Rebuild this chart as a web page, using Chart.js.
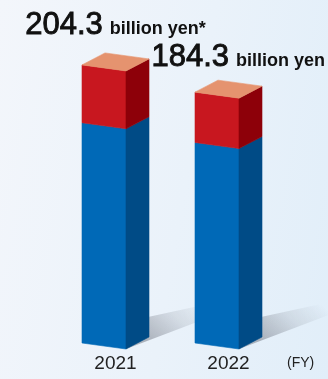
<!DOCTYPE html>
<html>
<head>
<meta charset="utf-8">
<script src="https://cdn.jsdelivr.net/npm/chart.js@4.4.1/dist/chart.umd.min.js"></script>
<style>
  html, body { margin: 0; padding: 0; }
  body {
    width: 328px; height: 379px; overflow: hidden;
    background: linear-gradient(100deg, #f3f6fb 0%, #eaf2fa 55%, #e1eef9 100%);
  }
  #wrap { position: relative; width: 328px; height: 379px; }
</style>
</head>
<body>
<div id="wrap"><canvas id="chart"></canvas></div>
<script>
const years = ["2021", "2022"];
const lowerPart = [161.8, 147.3];
const upperPart = [42.5, 37.0];
const totalLabels = ["204.3", "184.3"];
const unitLabels = ["billion yen*", "billion yen"];
const axisUnit = "(FY)";

// box depth: side face width/rise, front face tilt
const DX = 23, DY = 12, SLANT = 6;
const lidColor = "#e5936f";
const FONT = '"Liberation Sans", Arial, sans-serif';

function poly(ctx, pts, fill, edge) {
  ctx.beginPath();
  ctx.moveTo(pts[0][0], pts[0][1]);
  for (let i = 1; i < pts.length; i++) ctx.lineTo(pts[i][0], pts[i][1]);
  ctx.closePath();
  ctx.fillStyle = fill;
  ctx.fill();
  if (edge !== false) {
    ctx.strokeStyle = fill;
    ctx.lineWidth = 0.6;
    ctx.stroke();
  }
}

const boxes = {
  id: "boxes",
  afterDatasetsDraw(chart) {
    const ctx = chart.ctx;
    const metas = chart.data.datasets.map((d, i) => chart.getDatasetMeta(i));
    const n = chart.data.labels.length;
    ctx.save();

    // floor shadows first, so the next box covers the previous shadow
    for (let i = 0; i < n; i++) {
      const el = metas[0].data[i];
      const left = el.x - (el.width + DX) / 2;
      const right = left + el.width;
      const yb = el.base + SLANT;
      const sx = right + DX, L = 75;
      const top0 = yb - DY - 20;
      const g = ctx.createLinearGradient(sx, yb - 6, sx + 45, yb - DY - 45);
      g.addColorStop(0, "rgba(95,100,112,0.45)");
      g.addColorStop(0.55, "rgba(95,100,112,0.15)");
      g.addColorStop(1, "rgba(95,100,112,0)");
      poly(ctx, [[right, yb], [sx - 1, top0], [sx + L, top0 - 0.22 * L],
                 [sx + L, yb - 0.38 * (DX + L)]], g, false);
    }

    for (let i = 0; i < n; i++) {
      let left, right, top;
      metas.forEach((meta, d) => {
        const el = meta.data[i];
        const ds = chart.data.datasets[d];
        left = el.x - (el.width + DX) / 2;
        right = left + el.width;
        const yt = el.y, yb = el.base;
        top = yt;
        poly(ctx, [[left, yt], [right, yt + SLANT], [right, yb + SLANT], [left, yb]], ds.faceColor);
        poly(ctx, [[right, yt + SLANT], [right + DX, yt + SLANT - DY],
                   [right + DX, yb + SLANT - DY], [right, yb + SLANT]], ds.sideColor);
      });
      poly(ctx, [[left, top], [right, top + SLANT], [right + DX, top + SLANT - DY],
                 [left + DX, top - DY]], lidColor);

      // total label above the box; the last one is kept inside the right edge
      const cx = left + (right + DX - left) / 2;
      ctx.font = "31px " + FONT;
      const w1 = ctx.measureText(totalLabels[i]).width;
      ctx.font = "bold 18px " + FONT;
      const w2 = ctx.measureText(unitLabels[i]).width;
      const gap = 7;
      const w = w1 + gap + w2;
      const x0 = i === n - 1 ? chart.width - 3 - w : cx - w / 2;
      const base = i === n - 1 ? top - 26 : top - 31;
      ctx.fillStyle = "#111";
      ctx.strokeStyle = "#111";
      ctx.textBaseline = "alphabetic";
      ctx.textAlign = "left";
      ctx.font = "31px " + FONT;
      ctx.lineWidth = 0.9;
      ctx.fillText(totalLabels[i], x0, base);
      ctx.strokeText(totalLabels[i], x0, base);
      ctx.font = "bold 18px " + FONT;
      ctx.fillText(unitLabels[i], x0 + w1 + gap, base);
    }

    // axis unit after the last year
    const area = chart.chartArea;
    ctx.font = "14px " + FONT;
    ctx.fillStyle = "#222";
    ctx.textBaseline = "middle";
    ctx.fillText(axisUnit, area.right + 2, area.bottom + 20);
    ctx.restore();
  }
};

new Chart(document.getElementById("chart"), {
  type: "bar",
  data: {
    labels: years,
    datasets: [
      { data: lowerPart, backgroundColor: "rgba(0,0,0,0)", faceColor: "#0069b7", sideColor: "#004b86" },
      { data: upperPart, backgroundColor: "rgba(0,0,0,0)", faceColor: "#c8171f", sideColor: "#8d0009" }
    ]
  },
  options: {
    responsive: true,
    maintainAspectRatio: false,
    animation: false,
    layout: { padding: { left: 59, right: 43, top: 0, bottom: 0 } },
    plugins: { legend: { display: false }, tooltip: { enabled: false } },
    datasets: { bar: { barThickness: 44 } },
    scales: {
      x: {
        stacked: true,
        grid: { display: false, drawTicks: false },
        border: { display: false },
        ticks: { color: "#222", padding: 9, font: { family: FONT, size: 19 } },
        afterFit(scale) { scale.height = 36; }
      },
      y: { stacked: true, display: false, min: 0, max: 252 }
    }
  },
  plugins: [boxes]
});
</script>
</body>
</html>
